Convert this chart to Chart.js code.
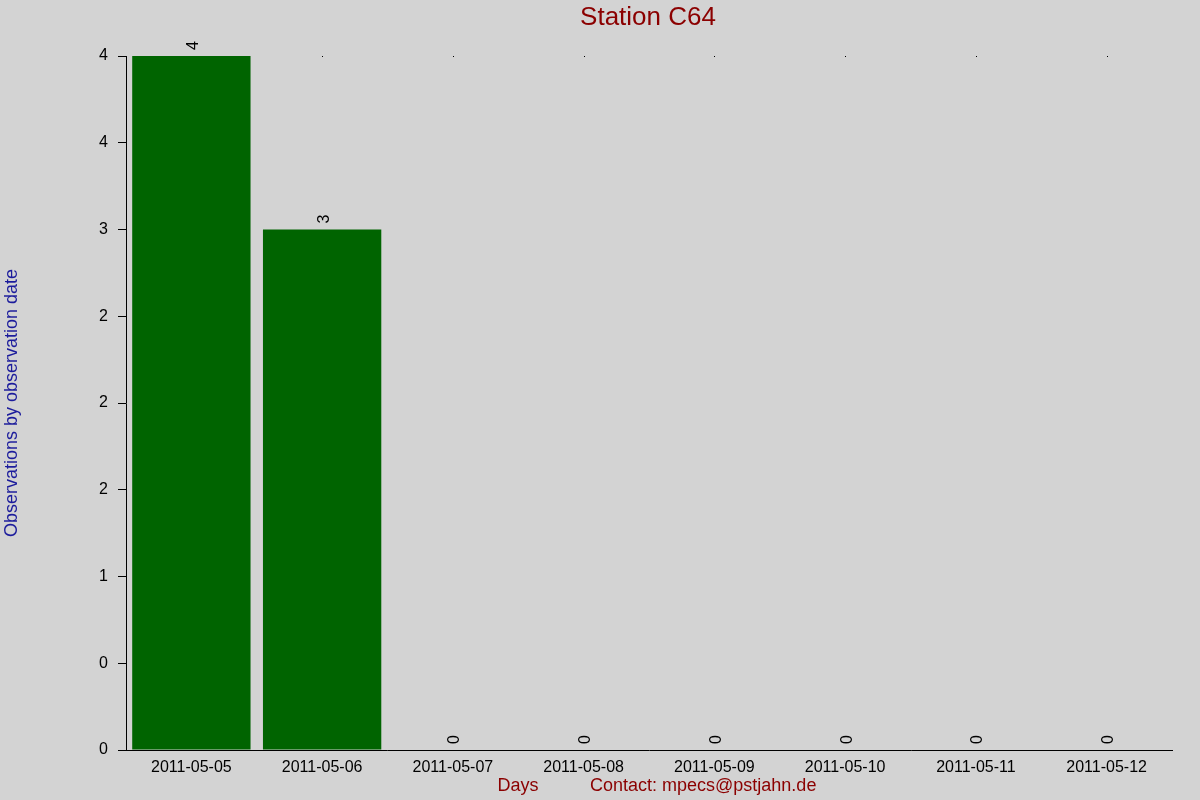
<!DOCTYPE html>
<html>
<head>
<meta charset="utf-8">
<script src="https://cdn.jsdelivr.net/npm/chart.js@4/dist/chart.umd.min.js"></script>
<style>
  html, body { margin: 0; padding: 0; background: #d3d3d3; }
  #wrap { width: 1200px; height: 800px; }
</style>
</head>
<body>
<div id="wrap"><canvas id="chart" width="1200" height="800"></canvas></div>
<script>
const days = ['2011-05-05', '2011-05-06', '2011-05-07', '2011-05-08', '2011-05-09', '2011-05-10', '2011-05-11', '2011-05-12'];
const observations = [4, 3, 0, 0, 0, 0, 0, 0];
const titleText = 'Station C64';
const yTitle = 'Observations by observation date';
const xTitle = 'Days';
const contactText = 'Contact: mpecs@pstjahn.de';

const FONT = '"Liberation Sans", Arial, sans-serif';

// labels are printed rounded half-to-even like the original (0.5 -> 0, 2.5 -> 2)
function roundEven(v) {
    const f = Math.floor(v);
    const d = v - f;
    if (Math.abs(d - 0.5) < 1e-9) return f % 2 === 0 ? f : f + 1;
    return Math.round(v);
}

const decorations = {
    id: 'decorations',
    beforeDraw(chart) {
        const ctx = chart.ctx;
        ctx.save();
        ctx.fillStyle = '#d3d3d3';
        ctx.fillRect(0, 0, chart.width, chart.height);
        ctx.restore();
    },
    afterDraw(chart) {
        const ctx = chart.ctx;
        const area = chart.chartArea;
        ctx.save();

        ctx.fillStyle = '#8b0000';
        ctx.font = '26px ' + FONT;
        ctx.textAlign = 'center';
        ctx.textBaseline = 'middle';
        ctx.fillText(titleText, 648, 18);

        ctx.font = '18px ' + FONT;
        ctx.textAlign = 'center';
        ctx.fillText(xTitle, 518, 786);
        ctx.textAlign = 'left';
        ctx.fillText(contactText, 590, 786);

        ctx.save();
        ctx.translate(12, (area.top + area.bottom) / 2);
        ctx.rotate(-Math.PI / 2);
        ctx.fillStyle = '#1c1c9c';
        ctx.textAlign = 'center';
        ctx.fillText(yTitle, 0, 0);
        ctx.restore();

        // value labels, rotated
        const meta = chart.getDatasetMeta(0);
        ctx.fillStyle = '#000';
        ctx.font = '16px ' + FONT;
        meta.data.forEach((bar, i) => {
            ctx.save();
            ctx.translate(bar.x + 2, bar.y - 6);
            ctx.rotate(-Math.PI / 2);
            ctx.textAlign = 'left';
            ctx.textBaseline = 'middle';
            ctx.fillText(String(observations[i]), 0, 0);
            ctx.restore();
            if (bar.y > area.top + 1) {
                ctx.fillRect(Math.round(bar.x), area.top, 1, 1);
            }
        });
        ctx.restore();
    }
};

new Chart(document.getElementById('chart'), {
    type: 'bar',
    data: {
        labels: days,
        datasets: [{
            data: observations,
            backgroundColor: '#006400',
            borderWidth: 0,
            barPercentage: 0.905,
            categoryPercentage: 1
        }]
    },
    options: {
        responsive: false,
        animation: false,
        layout: { padding: { top: 56, right: 28, left: 0, bottom: 0 } },
        plugins: {
            legend: { display: false },
            tooltip: { enabled: false },
            title: { display: false }
        },
        scales: {
            x: {
                grid: { display: false },
                border: { display: true, color: '#000', width: 1 },
                ticks: { color: '#000', font: { family: FONT, size: 16 }, maxRotation: 0, padding: 0 },
                afterFit(scale) { scale.height = 50; }
            },
            y: {
                min: 0,
                max: 4,
                grid: { drawOnChartArea: false, drawTicks: true, tickLength: 8, color: '#000' },
                border: { display: true, color: '#000', width: 1 },
                ticks: {
                    stepSize: 0.5,
                    color: '#000',
                    font: { family: FONT, size: 16 },
                    padding: 10,
                    callback: (v) => String(roundEven(v))
                },
                afterFit(scale) { scale.width = 126; }
            }
        }
    },
    plugins: [decorations]
});
</script>
</body>
</html>
